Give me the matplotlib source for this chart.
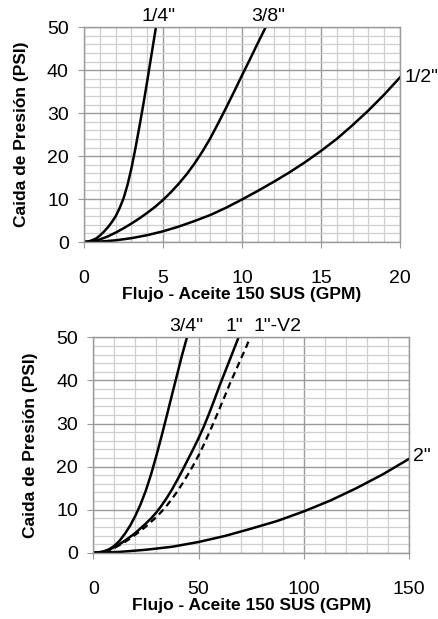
#
# Pressure drop vs. flow curves (two panels), oil 150 SUS.
#

import numpy as np
import matplotlib.pyplot as plt
from matplotlib.ticker import MultipleLocator

plt.rcParams['font.family'] = ['Liberation Sans', 'DejaVu Sans']

# Top panel: 1/4", 3/8", 1/2"
q_14 = [0, 0.25, 0.5, 0.75, 1.0, 1.25, 1.5, 1.75, 2.0, 2.25, 2.5, 2.75, 3.0,
        3.25, 3.5, 3.75, 4.0, 4.25, 4.55]
p_14 = [0, 0.1, 0.4, 0.8, 1.5, 2.4, 3.4, 4.6, 6.0, 7.9, 10.2, 13.3, 17.2,
        21.8, 26.8, 32.0, 37.5, 43.2, 50]

q_38 = [0, 0.5, 1, 1.5, 2, 2.5, 3, 3.5, 4, 4.5, 5, 5.5, 6, 6.5, 7, 7.5, 8,
        8.5, 9, 9.5, 10, 10.5, 11, 11.5]
p_38 = [0, 0.2, 0.6, 1.3, 2.2, 3.2, 4.3, 5.5, 6.8, 8.2, 9.8, 11.6, 13.6, 15.8,
        18.3, 21.1, 24.2, 27.7, 31.3, 35.0, 38.8, 42.5, 46.3, 50]

q_12 = [0, 1, 2, 3, 4, 5, 6, 7, 8, 9, 10, 11, 12, 13, 14, 15, 16, 17, 18, 19, 20]
p_12 = [0, 0.1, 0.4, 0.9, 1.6, 2.5, 3.6, 4.9, 6.3, 8.0, 9.9, 11.9, 14.0, 16.2,
        18.6, 21.2, 24.0, 27.2, 30.6, 34.3, 38.3]

# Bottom panel: 3/4", 1", 1"-V2, 2"
q_34 = [0, 2.5, 5, 7.5, 10, 12.5, 15, 17.5, 20, 22.5, 25, 27.5, 30, 32.5, 35,
        37.5, 40, 42, 44.5]
p_34 = [0, 0.05, 0.3, 0.8, 1.6, 2.8, 4.4, 6.3, 8.6, 11.3, 14.5, 18.3, 22.6,
        27.2, 32.0, 36.9, 41.7, 45.6, 50]

q_1 = [0, 2.5, 5, 7.5, 10, 12.5, 15, 17.5, 20, 22.5, 25, 27.5, 30, 32.5, 35,
       37.5, 40, 42.5, 45, 47.5, 50, 52.5, 55, 57.5, 60, 62.5, 65, 67, 69]
p_1 = [0, 0.1, 0.3, 0.7, 1.3, 2.0, 2.8, 3.7, 4.6, 5.7, 6.8, 8.0, 9.4, 11.0, 12.8,
       14.8, 17.0, 19.3, 21.7, 24.1, 26.6, 29.3, 32.3, 35.5, 38.8, 41.9, 45.0,
       47.5, 50]

q_1v2 = [0, 2.5, 5, 7.5, 10, 12.5, 15, 17.5, 20, 22.5, 25, 27.5, 30, 32.5, 35,
         37.5, 40, 42.5, 45, 47.5, 50, 52.5, 55, 57.5, 60, 62.5, 65, 67.5, 70,
         72.5, 74.5]
p_1v2 = [0, 0.05, 0.2, 0.6, 1.1, 1.8, 2.5, 3.3, 4.2, 5.1, 6.1, 7.2, 8.3, 9.6,
         11.0, 12.6, 14.3, 16.2, 18.2, 20.3, 22.6, 25.1, 27.8, 30.6, 33.5, 36.4,
         39.4, 42.1, 44.9, 47.6, 50]

q_2 = [0, 12.5, 25, 37.5, 50, 62.5, 75, 87.5, 100, 112.5, 125, 137.5, 150]
p_2 = [0, 0.2, 0.7, 1.4, 2.5, 3.9, 5.6, 7.4, 9.6, 12.1, 15.0, 18.2, 21.8]

xlab = 'Flujo - Aceite 150 SUS (GPM)'
ylab = 'Caida de Presión (PSI)'

fig = plt.figure(figsize=(4.38, 6.19), dpi=100)
ax1 = fig.add_axes([0.192, 0.609, 0.721, 0.347])
ax2 = fig.add_axes([0.213, 0.107, 0.721, 0.348])


def style(ax, xmax, xmaj, xmin):
    ax.set_xlim(0, xmax)
    ax.set_ylim(0, 50)
    ax.xaxis.set_major_locator(MultipleLocator(xmaj))
    ax.xaxis.set_minor_locator(MultipleLocator(xmin))
    ax.yaxis.set_major_locator(MultipleLocator(10))
    ax.yaxis.set_minor_locator(MultipleLocator(2))
    ax.grid(which='minor', color='#cfcfcf', lw=0.9)
    ax.grid(which='major', color='#9a9a9a', lw=1.0)
    ax.set_axisbelow(True)
    for s in ax.spines.values():
        s.set_color('#9a9a9a')
        s.set_linewidth(1.0)
    ax.tick_params(which='major', length=4, color='#9a9a9a', labelsize=14)
    ax.tick_params(axis='x', which='major', pad=16)
    ax.tick_params(axis='y', which='major', pad=7)
    ax.tick_params(which='minor', length=0)
    ax.set_xlabel(xlab, fontsize=12.5, fontweight='bold', labelpad=0)
    ax.set_ylabel(ylab, fontsize=12.5, fontweight='bold', labelpad=13)


style(ax1, 20, 5, 1)
ax1.plot(q_14, p_14, 'k-', lw=1.8)
ax1.plot(q_38, p_38, 'k-', lw=1.8)
ax1.plot(q_12, p_12, 'k-', lw=1.8)
ax1.text(4.72, 52.6, '1/4"', fontsize=14, ha='center', va='center', clip_on=False)
ax1.text(11.66, 52.6, '3/8"', fontsize=14, ha='center', va='center', clip_on=False)
ax1.text(20.3, 38.2, '1/2"', fontsize=14, ha='left', va='center', clip_on=False)

style(ax2, 150, 50, 10)
ax2.plot(q_34, p_34, 'k-', lw=1.8)
ax2.plot(q_1, p_1, 'k-', lw=1.8)
ax2.plot(q_1v2, p_1v2, 'k--', lw=1.6, dashes=(3, 2))
ax2.plot(q_2, p_2, 'k-', lw=1.8)
ax2.text(44.1, 52.6, '3/4"', fontsize=14, ha='center', va='center', clip_on=False)
ax2.text(66.9, 52.6, '1"', fontsize=14, ha='center', va='center', clip_on=False)
ax2.text(87.6, 52.6, '1"-V2', fontsize=14, ha='center', va='center', clip_on=False)
ax2.text(151.9, 22.3, '2"', fontsize=14, ha='left', va='center', clip_on=False)

plt.savefig('out.png', dpi=100)
